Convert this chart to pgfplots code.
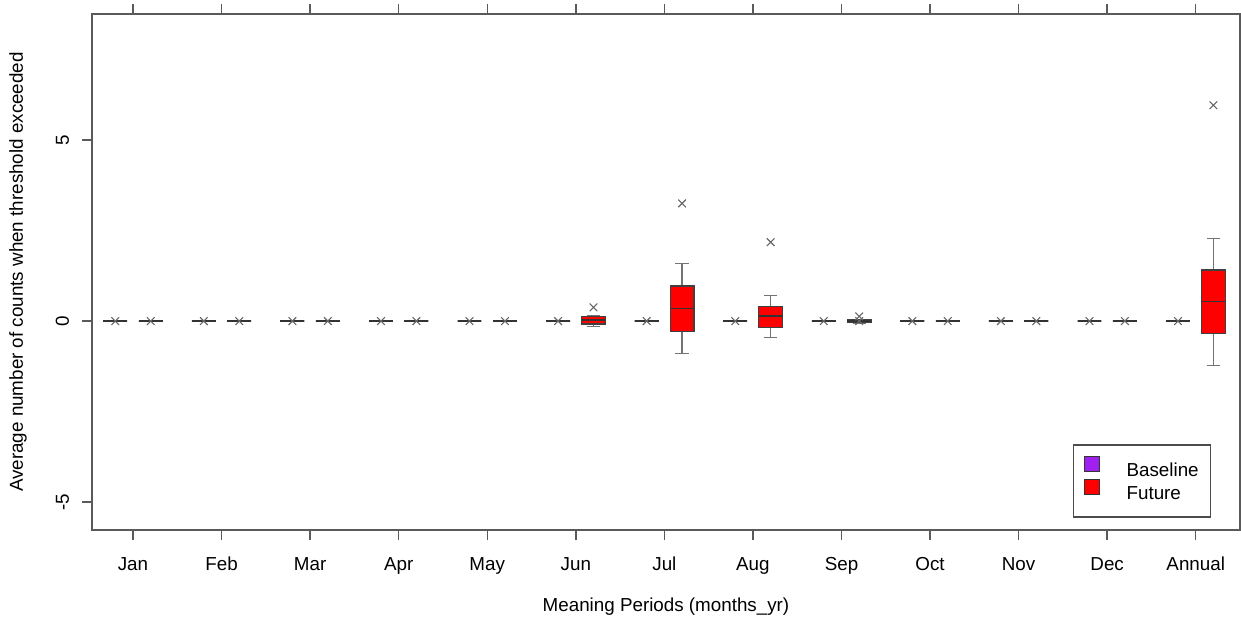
\documentclass[border=0pt]{standalone}
\usepackage{pgfplots}
\pgfplotsset{compat=1.18}
\usepgfplotslibrary{statistics}
\usepackage{fontspec}
\setmainfont{Liberation Sans}
\definecolor{basecol}{HTML}{A020F0}
\definecolor{futcol}{HTML}{FF0000}
\definecolor{axgray}{HTML}{5A5A5A}
\newcommand{\chartfont}{\fontsize{9.4}{11}\selectfont}
\pgfplotsset{
  bx/.style={forget plot, solid, draw=black!75, line width=0.6pt, fill=#1,
    mark=x, mark size=2.7pt, mark options={draw=black!60, fill=none, line width=0.55pt},
    boxplot/draw direction=y,
    boxplot/box extend=0.27, boxplot/whisker extend=0.15,
    boxplot/every whisker/.style={draw=black!55, line width=0.6pt},
    boxplot/every median/.style={draw=black!80, line width=0.6pt},
  },
}
\begin{document}
\begin{tikzpicture}
\begin{axis}[
  name=ax,
  scale only axis,
  width=574pt, height=258pt,
  xmin=0.537, xmax=13.5,
  ymin=-5.77, ymax=8.48,
  axis line style={axgray, line width=0.7pt},
  tick style={axgray, line width=0.7pt},
  tick align=outside,
  tick pos=both,
  major tick length=5pt,
  xtick={1,2,3,4,5,6,7,8,9,10,11,12,13},
  xticklabels={Jan,Feb,Mar,Apr,May,Jun,Jul,Aug,Sep,Oct,Nov,Dec,Annual},
  ytick={-5,0,5},
  /pgf/number format/assume math mode=true,
  xticklabel style={anchor=base, yshift=-15pt, font=\chartfont},
  yticklabel style={xshift=-6.5pt, rotate=90, anchor=base, font=\chartfont},
  xlabel={Meaning Periods (months\_yr)},
  ylabel={Average number of counts when threshold exceeded},
  xlabel style={at={(axis description cs:0.5,-0.148)}, anchor=center, font=\chartfont},
  ylabel style={at={(axis description cs:-0.0645,0.5)}, anchor=center, font=\chartfont},
  legend style={at={(0.975,0.024)}, anchor=south east, draw=black!70, line width=0.6pt,
    font=\chartfont, inner xsep=4pt, inner ysep=5.5pt, row sep=-2pt, cells={anchor=west}},
  legend image code/.code={\draw[#1, line width=0.5pt] (1.5pt,-0.3pt) rectangle (9pt,7.2pt); \path[draw=none,fill=none] (0pt,0pt) -- (20.5pt,0pt);},
]
% Baseline (all degenerate at zero)
\addplot[bx=basecol, boxplot prepared={draw position=0.8, lower whisker=0, lower quartile=0, median=0, upper quartile=0, upper whisker=0}] coordinates {(0,0)};
\addplot[bx=basecol, boxplot prepared={draw position=1.8, lower whisker=0, lower quartile=0, median=0, upper quartile=0, upper whisker=0}] coordinates {(0,0)};
\addplot[bx=basecol, boxplot prepared={draw position=2.8, lower whisker=0, lower quartile=0, median=0, upper quartile=0, upper whisker=0}] coordinates {(0,0)};
\addplot[bx=basecol, boxplot prepared={draw position=3.8, lower whisker=0, lower quartile=0, median=0, upper quartile=0, upper whisker=0}] coordinates {(0,0)};
\addplot[bx=basecol, boxplot prepared={draw position=4.8, lower whisker=0, lower quartile=0, median=0, upper quartile=0, upper whisker=0}] coordinates {(0,0)};
\addplot[bx=basecol, boxplot prepared={draw position=5.8, lower whisker=0, lower quartile=0, median=0, upper quartile=0, upper whisker=0}] coordinates {(0,0)};
\addplot[bx=basecol, boxplot prepared={draw position=6.8, lower whisker=0, lower quartile=0, median=0, upper quartile=0, upper whisker=0}] coordinates {(0,0)};
\addplot[bx=basecol, boxplot prepared={draw position=7.8, lower whisker=0, lower quartile=0, median=0, upper quartile=0, upper whisker=0}] coordinates {(0,0)};
\addplot[bx=basecol, boxplot prepared={draw position=8.8, lower whisker=0, lower quartile=0, median=0, upper quartile=0, upper whisker=0}] coordinates {(0,0)};
\addplot[bx=basecol, boxplot prepared={draw position=9.8, lower whisker=0, lower quartile=0, median=0, upper quartile=0, upper whisker=0}] coordinates {(0,0)};
\addplot[bx=basecol, boxplot prepared={draw position=10.8, lower whisker=0, lower quartile=0, median=0, upper quartile=0, upper whisker=0}] coordinates {(0,0)};
\addplot[bx=basecol, boxplot prepared={draw position=11.8, lower whisker=0, lower quartile=0, median=0, upper quartile=0, upper whisker=0}] coordinates {(0,0)};
\addplot[bx=basecol, boxplot prepared={draw position=12.8, lower whisker=0, lower quartile=0, median=0, upper quartile=0, upper whisker=0}] coordinates {(0,0)};
% Future
\addplot[bx=futcol, boxplot prepared={draw position=1.2, lower whisker=0, lower quartile=0, median=0, upper quartile=0, upper whisker=0}] coordinates {(0,0)};
\addplot[bx=futcol, boxplot prepared={draw position=2.2, lower whisker=0, lower quartile=0, median=0, upper quartile=0, upper whisker=0}] coordinates {(0,0)};
\addplot[bx=futcol, boxplot prepared={draw position=3.2, lower whisker=0, lower quartile=0, median=0, upper quartile=0, upper whisker=0}] coordinates {(0,0)};
\addplot[bx=futcol, boxplot prepared={draw position=4.2, lower whisker=0, lower quartile=0, median=0, upper quartile=0, upper whisker=0}] coordinates {(0,0)};
\addplot[bx=futcol, boxplot prepared={draw position=5.2, lower whisker=0, lower quartile=0, median=0, upper quartile=0, upper whisker=0}] coordinates {(0,0)};
\addplot[bx=futcol, boxplot prepared={draw position=6.2, lower whisker=-0.14, lower quartile=-0.08, median=0.03, upper quartile=0.12, upper whisker=0.15}] coordinates {(0,0.38)};
\addplot[bx=futcol, boxplot prepared={draw position=7.2, lower whisker=-0.89, lower quartile=-0.29, median=0.35, upper quartile=0.97, upper whisker=1.58}] coordinates {(0,3.25)};
\addplot[bx=futcol, boxplot prepared={draw position=8.2, lower whisker=-0.45, lower quartile=-0.17, median=0.14, upper quartile=0.41, upper whisker=0.70}] coordinates {(0,2.18)};
\addplot[bx=futcol, boxplot prepared={draw position=9.2, lower whisker=-0.06, lower quartile=-0.03, median=0, upper quartile=0.03, upper whisker=0.05}] coordinates {(0,0) (0,0.13)};
\addplot[bx=futcol, boxplot prepared={draw position=10.2, lower whisker=0, lower quartile=0, median=0, upper quartile=0, upper whisker=0}] coordinates {(0,0)};
\addplot[bx=futcol, boxplot prepared={draw position=11.2, lower whisker=0, lower quartile=0, median=0, upper quartile=0, upper whisker=0}] coordinates {(0,0)};
\addplot[bx=futcol, boxplot prepared={draw position=12.2, lower whisker=0, lower quartile=0, median=0, upper quartile=0, upper whisker=0}] coordinates {(0,0)};
\addplot[bx=futcol, boxplot prepared={draw position=13.2, lower whisker=-1.22, lower quartile=-0.34, median=0.53, upper quartile=1.41, upper whisker=2.27}] coordinates {(0,5.96)};
\addlegendimage{draw=black!80, fill=basecol}
\addlegendentry{Baseline}
\addlegendimage{draw=black!80, fill=futcol}
\addlegendentry{Future}
\end{axis}
\pgfresetboundingbox
\useasboundingbox ([xshift=-46pt,yshift=-43.5pt]ax.south west) rectangle ++(620.5pt,308.5pt);
\end{tikzpicture}
\end{document}
